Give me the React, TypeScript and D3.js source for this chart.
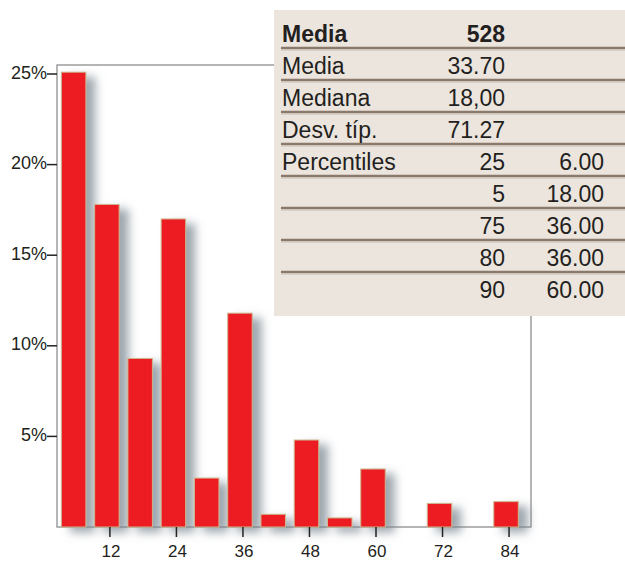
import { useRef, useEffect } from "react";
import * as d3 from "d3";

// histogram bins (upper value of each 6-unit bin) and their share in %
const binValues = [6, 12, 18, 24, 30, 36, 42, 48, 54, 60, 66, 72, 78, 84];
const percents = [25.1, 17.8, 9.3, 17.0, 2.7, 11.8, 0.7, 4.8, 0.5, 3.2, 0, 1.3, 0, 1.4];
const yTicks = [5, 10, 15, 20, 25];
const xTicks = [12, 24, 36, 48, 60, 72, 84];

// statistics table
const statLabels = ["Media", "Media", "Mediana", "Desv. típ.", "Percentiles", "", "", "", ""];
const statValues = ["528", "33.70", "18,00", "71.27", "25", "5", "75", "80", "90"];
const statExtra = ["", "", "", "", "6.00", "18.00", "36.00", "36.00", "60.00"];

const W = 625;
const H = 562;
const FONT = "'Liberation Sans', Arial, sans-serif";

export default function App() {
  const svgRef = useRef<SVGSVGElement>(null);

  useEffect(() => {
    const svg = d3.select(svgRef.current);
    svg.selectAll("*").remove();

    const left = 57, right = 531, top = 65, bottom = 527;
    const x = d3.scaleLinear().domain([3, 88.5]).range([left, right]);
    const y = d3.scaleLinear().domain([0, 25]).range([bottom, 74]);
    const barW = 24.5;

    const defs = svg.append("defs");
    const f = defs
      .append("filter")
      .attr("id", "shadow")
      .attr("x", "-50%")
      .attr("y", "-20%")
      .attr("width", "250%")
      .attr("height", "150%");
    f.append("feDropShadow")
      .attr("dx", 9)
      .attr("dy", 5)
      .attr("stdDeviation", 5)
      .attr("flood-color", "#75828c")
      .attr("flood-opacity", 0.7);

    // frame
    svg
      .append("rect")
      .attr("x", left)
      .attr("y", top)
      .attr("width", right - left)
      .attr("height", bottom - top)
      .attr("fill", "#fff")
      .attr("stroke", "#8e8e8e")
      .attr("stroke-width", 1.3);

    // bars
    svg
      .append("g")
      .attr("filter", "url(#shadow)")
      .selectAll("rect")
      .data(binValues.map((v, i) => ({ v, p: percents[i] })).filter((d) => d.p > 0))
      .join("rect")
      .attr("x", (d) => x(d.v) - barW / 2)
      .attr("y", (d) => y(d.p))
      .attr("width", barW)
      .attr("height", (d) => bottom - y(d.p))
      .attr("fill", "#ed1c24")
      .attr("stroke", "#cdb68c")
      .attr("stroke-width", 1);

    // y axis ticks
    const yg = svg.append("g");
    yTicks.forEach((t) => {
      yg.append("line")
        .attr("x1", 47)
        .attr("x2", left)
        .attr("y1", y(t))
        .attr("y2", y(t))
        .attr("stroke", "#222")
        .attr("stroke-width", 1.5);
      yg.append("text")
        .attr("x", 47)
        .attr("y", y(t) + 4.5)
        .attr("text-anchor", "end")
        .attr("font-family", FONT)
        .attr("font-size", 18)
        .attr("fill", "#231f20")
        .text(`${t}%`);
    });

    // x axis ticks
    const xg = svg.append("g");
    xTicks.forEach((t) => {
      xg.append("line")
        .attr("x1", x(t) + 3)
        .attr("x2", x(t) + 3)
        .attr("y1", bottom)
        .attr("y2", bottom + 10)
        .attr("stroke", "#222")
        .attr("stroke-width", 1.5);
      xg.append("text")
        .attr("x", x(t) + 4)
        .attr("y", 557)
        .attr("text-anchor", "middle")
        .attr("font-family", FONT)
        .attr("font-size", 17)
        .attr("fill", "#231f20")
        .text(t);
    });

    // statistics table
    const tx = 274, ty = 10;
    const tg = svg.append("g");
    tg.append("rect")
      .attr("x", tx)
      .attr("y", ty)
      .attr("width", W - tx)
      .attr("height", 306)
      .attr("fill", "#ebe5de");

    const rowH = 32;
    statLabels.forEach((lab, i) => {
      const base = 42 + i * rowH;
      const bold = i === 0;
      if (i < statLabels.length - 1) {
        tg.append("line")
          .attr("x1", 281)
          .attr("x2", W)
          .attr("y1", base + 6)
          .attr("y2", base + 6)
          .attr("stroke", "#8a7a6b")
          .attr("stroke-width", 2.5);
        tg.append("line")
          .attr("x1", 281)
          .attr("x2", W)
          .attr("y1", base + 8)
          .attr("y2", base + 8)
          .attr("stroke", "#c9bcae")
          .attr("stroke-width", 1);
      }
      const txt = (xx: number, s: string, anchor: string) =>
        tg.append("text")
          .attr("x", xx)
          .attr("y", base)
          .attr("text-anchor", anchor)
          .attr("font-family", FONT)
          .attr("font-size", 23)
          .attr("font-weight", bold ? "bold" : "normal")
          .attr("fill", "#231f20")
          .text(s);
      if (lab) txt(282, lab, "start");
      txt(505, statValues[i], "end");
      if (statExtra[i]) txt(604, statExtra[i], "end");
    });
  }, []);

  return (
    <svg
      ref={svgRef}
      width={W}
      height={H}
      style={{ position: "absolute", left: 0, top: 0 }}
    />
  );
}
